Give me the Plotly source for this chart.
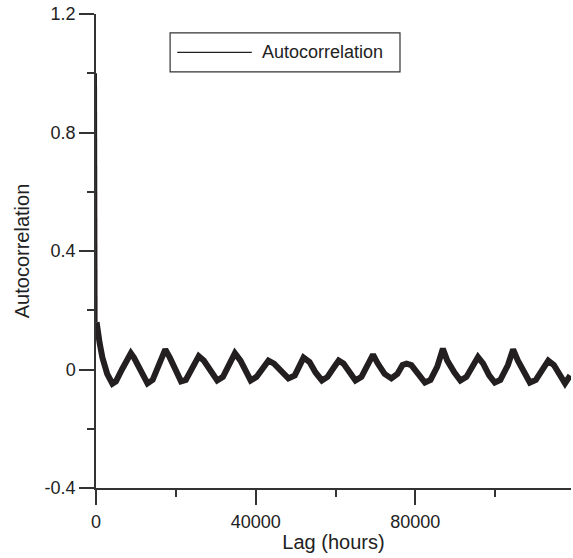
import plotly.graph_objects as go

# Data (lag in hours, autocorrelation)
lag_hours = [0, 60, 150, 400, 900, 1600, 2800, 4100, 5000, 6500, 8000, 8730, 9500, 11000,
             12900, 14200, 16000, 17360, 18500, 20000, 21300, 22500, 24300, 25740, 27000,
             28800, 30370, 31800, 33500, 34800, 36200, 37500, 38750, 40200, 41800, 43200,
             44600, 46500, 48200, 49800, 51000, 52000, 53500, 55000, 56600, 58000, 59500,
             60800, 62000, 63500, 65000, 66500, 68200, 69400, 70600, 72300, 74000, 75500,
             76800, 77800, 79000, 80800, 82400, 83800, 85500, 86900, 88000, 89800, 91300,
             92800, 94500, 95700, 97000, 98500, 99900, 101300, 103200, 104500, 105700,
             107200, 108700, 110200, 112000, 113300, 114700, 116200, 117500, 118800]
acf = [1.0, 0.30, 0.16, 0.12, 0.09, 0.04, -0.015, -0.048, -0.04, 0.0, 0.04, 0.055, 0.04, 0.0,
       -0.047, -0.035, 0.02, 0.068, 0.04, -0.01, -0.04, -0.035, 0.01, 0.045, 0.03,
       -0.01, -0.037, -0.025, 0.02, 0.055, 0.03, -0.01, -0.037, -0.025, 0.005, 0.03,
       0.02, -0.01, -0.03, -0.02, 0.015, 0.04, 0.025, -0.01, -0.037, -0.025, 0.005,
       0.03, 0.02, -0.01, -0.037, -0.025, 0.015, 0.05, 0.02, -0.015, -0.03, -0.015,
       0.015, 0.02, 0.015, -0.015, -0.044, -0.035, 0.01, 0.07, 0.03, -0.01, -0.037,
       -0.025, 0.02, 0.042, 0.02, -0.02, -0.044, -0.035, 0.015, 0.068, 0.03,
       -0.01, -0.044, -0.035, 0.005, 0.03, 0.015, -0.02, -0.047, -0.02]

y_tickvals = [-0.4, 0, 0.4, 0.8, 1.2]
y_ticktext = ["-0.4", "0", "0.4", "0.8", "1.2"]
x_tickvals = [0, 40000, 80000]
x_ticktext = ["0", "40000", "80000"]
series_name = "Autocorrelation"

FONT = "Arial, Liberation Sans, sans-serif"
AX = "#333333"
LINE = "#231f20"

fig = go.Figure()
# initial steep drop (runs along the y axis) drawn thin
fig.add_trace(go.Scatter(x=lag_hours[:3], y=acf[:3], mode="lines", name=series_name,
                         line=dict(color=LINE, width=2), showlegend=False))
# the oscillating remainder drawn as a thick noisy band
fig.add_trace(go.Scatter(x=lag_hours[2:], y=acf[2:], mode="lines", name=series_name,
                         line=dict(color=LINE, width=6), showlegend=False))

fig.update_layout(
    width=573, height=558,
    margin=dict(l=96, r=2, t=14, b=70),
    paper_bgcolor="white", plot_bgcolor="white",
    font=dict(family=FONT, size=18, color="#222222"),
)
fig.update_xaxes(
    range=[0, 119000], showgrid=False, zeroline=False,
    showline=True, linecolor=AX, linewidth=1.5,
    ticks="outside", ticklen=15, tickwidth=1.5, tickcolor=AX,
    tickvals=x_tickvals, ticktext=x_ticktext,
    ticklabelstandoff=2,
    minor=dict(dtick=20000, tick0=0, ticks="outside", ticklen=7, tickwidth=1.5, tickcolor=AX),
    title=dict(text="Lag (hours)", font=dict(size=20), standoff=4),
)
fig.update_yaxes(
    range=[-0.4, 1.2], showgrid=False, zeroline=False,
    showline=True, linecolor=AX, linewidth=1.5,
    ticks="outside", ticklen=15, tickwidth=1.5, tickcolor=AX,
    tickvals=y_tickvals, ticktext=y_ticktext,
    minor=dict(dtick=0.2, tick0=0, ticks="outside", ticklen=7, tickwidth=1.5, tickcolor=AX),
    title=dict(text="Autocorrelation", font=dict(size=20), standoff=10),
)

# Legend box drawn in paper coordinates
fig.add_shape(type="rect", xref="paper", yref="paper", x0=0.156, x1=0.64, y0=0.878, y1=0.96,
              line=dict(color=AX, width=1.2), fillcolor="white")
fig.add_shape(type="line", xref="paper", yref="paper", x0=0.171, x1=0.328, y0=0.919, y1=0.919,
              line=dict(color=LINE, width=1.2))
fig.add_annotation(xref="paper", yref="paper", x=0.345, y=0.919, text=series_name,
                   showarrow=False, xanchor="left", yanchor="middle",
                   font=dict(family=FONT, size=18, color="#222222"))

fig.write_html("out.html")
